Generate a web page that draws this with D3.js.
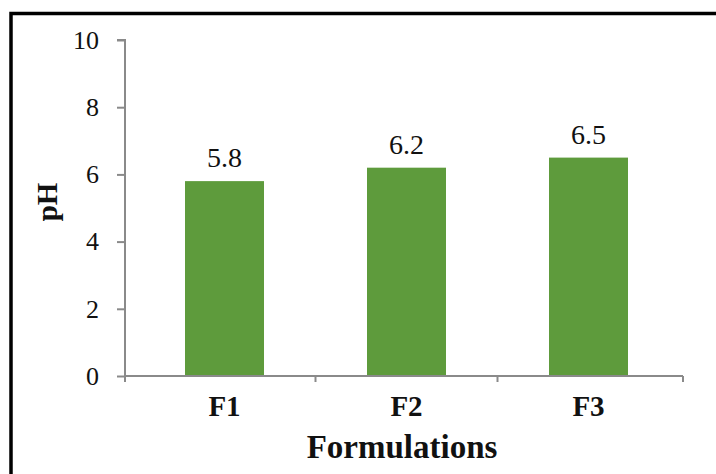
<!DOCTYPE html>
<html><head><meta charset="utf-8">
<script src="https://cdn.jsdelivr.net/npm/d3@7"></script>
<style>html,body{margin:0;padding:0;background:#fff;}svg{display:block;}</style>
</head><body>
<script>
const categories = ["F1", "F2", "F3"];
const phValues = [5.8, 6.2, 6.5];
const yTicks = [0, 2, 4, 6, 8, 10];

const W = 716, H = 474;
const svg = d3.select("body").append("svg").attr("width", W).attr("height", H);
svg.append("rect").attr("width", W).attr("height", H).attr("fill", "#fff");
// outer frame (only top and left visible)
svg.append("rect").attr("x", 11).attr("y", 13.5).attr("width", 760).attr("height", 520)
  .attr("fill", "none").attr("stroke", "#000").attr("stroke-width", 3.5);

const axisLeft = 125, axisRight = 683;
const y = d3.scaleLinear().domain([0, 10]).range([376, 40]);
const x = d3.scaleBand().domain(categories).range([133.5, 679.5]).paddingInner(0.566).paddingOuter(0.283);

const font = "'Liberation Serif', 'Times New Roman', serif";
const axisColor = "#8a8a8a";

// y axis
const gy = svg.append("g").attr("transform", `translate(${axisLeft},0)`)
  .call(d3.axisLeft(y).tickValues(yTicks).tickSize(8).tickPadding(18).tickFormat(d3.format("d")));
gy.select(".domain").attr("stroke", axisColor).attr("stroke-width", 2).attr("d", `M-8,${y(10)}H0V${y(0)+6}`);
gy.selectAll(".tick line").attr("stroke", axisColor).attr("stroke-width", 2);
gy.selectAll(".tick text").attr("font-family", font).attr("font-size", 26).attr("fill", "#111");

// bars
svg.selectAll(".bar").data(phValues).enter().append("rect")
  .attr("x", (d, i) => x(categories[i]))
  .attr("y", d => y(d))
  .attr("width", x.bandwidth())
  .attr("height", d => y(0) - y(d))
  .attr("fill", "#5e9b3c");

// x axis
const gx = svg.append("g").attr("transform", `translate(0,${y(0)})`);
gx.append("line").attr("x1", axisLeft).attr("x2", axisRight).attr("y1", 0).attr("y2", 0)
  .attr("stroke", axisColor).attr("stroke-width", 2);
const bounds = [axisLeft, ...categories.slice(1).map(c => x(c) - x.step() * x.paddingInner()/2), axisRight];
gx.selectAll(".xt").data(bounds).enter().append("line")
  .attr("x1", d => d).attr("x2", d => d).attr("y1", 0).attr("y2", 6)
  .attr("stroke", axisColor).attr("stroke-width", 2);
gx.selectAll(".xl").data(categories).enter().append("text")
  .attr("x", d => x(d) + x.bandwidth()/2).attr("y", 40)
  .attr("text-anchor", "middle").attr("font-family", font).attr("font-weight", "bold")
  .attr("font-size", 29).attr("fill", "#111").text(d => d);

// value labels
svg.selectAll(".vl").data(phValues).enter().append("text")
  .attr("x", (d, i) => x(categories[i]) + x.bandwidth()/2)
  .attr("y", d => y(d) - 14)
  .attr("text-anchor", "middle").attr("font-family", font).attr("font-size", 28).attr("fill", "#111")
  .text(d => d.toFixed(1));

// axis titles
svg.append("text").attr("x", 402).attr("y", 458).attr("text-anchor", "middle")
  .attr("font-family", font).attr("font-weight", "bold").attr("font-size", 33).attr("fill", "#111")
  .text("Formulations");
svg.append("text").attr("transform", "translate(57,202) rotate(-90)").attr("text-anchor", "middle")
  .attr("font-family", font).attr("font-weight", "bold").attr("font-size", 29).attr("fill", "#111")
  .text("pH");
</script>
</body></html>
